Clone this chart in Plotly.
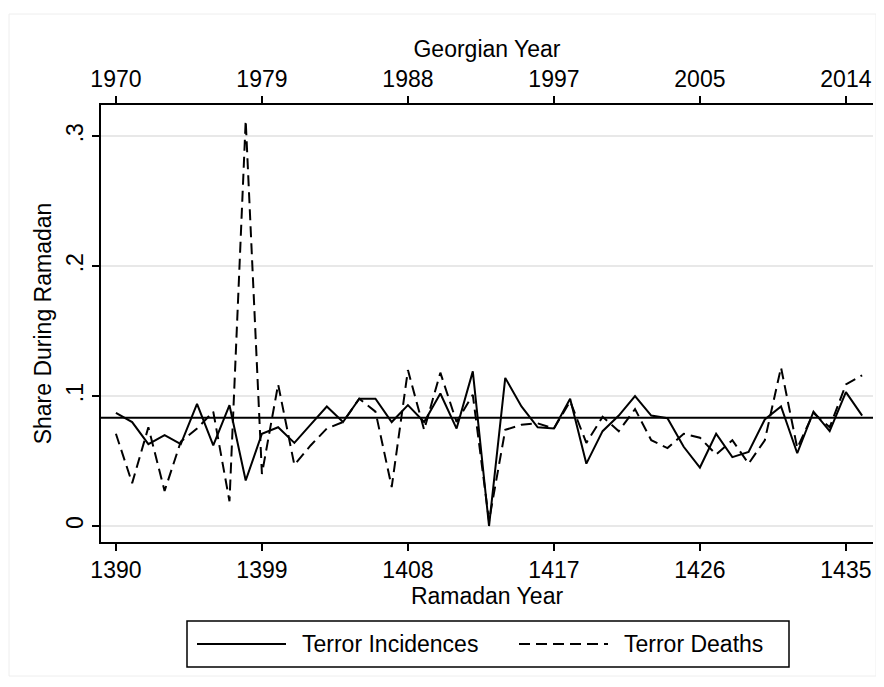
import plotly.graph_objects as go

# Ramadan years (lunar) and the share of terror falling in Ramadan
years = list(range(1390, 1437))

incidences = [
    0.087, 0.080, 0.063, 0.070, 0.063, 0.094, 0.062, 0.093, 0.035, 0.071,
    0.076, 0.064, 0.078, 0.092, 0.080, 0.098, 0.098, 0.080, 0.093, 0.080,
    0.102, 0.075, 0.119, 0.000, 0.114, 0.092, 0.076, 0.075, 0.098, 0.048,
    0.073, 0.085, 0.100, 0.085, 0.083, 0.061, 0.045, 0.071, 0.053, 0.057,
    0.082, 0.092, 0.056, 0.088, 0.073, 0.103, 0.085,
]

deaths = [
    0.071, 0.033, 0.076, 0.027, 0.065, 0.075, 0.088, 0.019, 0.312, 0.040,
    0.109, 0.047, 0.062, 0.075, 0.080, 0.098, 0.088, 0.030, 0.120, 0.074,
    0.118, 0.080, 0.101, 0.004, 0.074, 0.078, 0.079, 0.075, 0.096, 0.064,
    0.084, 0.073, 0.090, 0.066, 0.060, 0.071, 0.068, 0.055, 0.066, 0.048,
    0.066, 0.122, 0.060, 0.087, 0.076, 0.109, 0.116,
]

# expected share (1 month out of 12)
expected_share = 1 / 12

ramadan_ticks = [1390, 1399, 1408, 1417, 1426, 1435]
georgian_labels = ["1970", "1979", "1988", "1997", "2005", "2014"]
y_ticks = [0, 0.1, 0.2, 0.3]
y_labels = ["0", ".1", ".2", ".3"]

FONT = "Liberation Sans, Arial, sans-serif"
FS = 23
DASH = "11px,6px"

fig = go.Figure()
fig.add_trace(go.Scatter(x=years, y=incidences, mode="lines",
                         line=dict(color="black", width=2),
                         name="Terror Incidences", showlegend=False))
fig.add_trace(go.Scatter(x=years, y=deaths, mode="lines",
                         line=dict(color="black", width=2, dash=DASH),
                         name="Terror Deaths", showlegend=False))
# invisible trace so the top (Georgian) axis gets drawn
fig.add_trace(go.Scatter(x=years, y=incidences, xaxis="x2", mode="lines",
                         line=dict(width=0), opacity=0, hoverinfo="skip",
                         showlegend=False))

xr = [1389.08, 1436.67]
axis_common = dict(showline=True, linecolor="black", linewidth=1.5,
                   ticks="outside", ticklen=7, tickwidth=1.5, tickcolor="black",
                   showgrid=False, zeroline=False, automargin=False,
                   tickfont=dict(family=FONT, size=FS, color="black"))

# page body has an 8px margin, so the figure is 8px smaller than the window
fig.update_layout(
    width=876, height=679, autosize=False,
    margin=dict(l=93, r=11, t=97, b=145),
    paper_bgcolor="white", plot_bgcolor="white",
    font=dict(family=FONT, size=FS, color="black"),
    xaxis=dict(range=xr, tickvals=ramadan_ticks, **axis_common,
               title=dict(text="Ramadan Year", standoff=0,
                          font=dict(family=FONT, size=FS))),
    xaxis2=dict(range=xr, overlaying="x", side="top", anchor="y",
                tickvals=ramadan_ticks, ticktext=georgian_labels, **axis_common,
                title=dict(text="Georgian Year", standoff=2,
                           font=dict(family=FONT, size=FS))),
    yaxis=dict(range=[-0.0123, 0.324], tickvals=y_ticks, ticktext=y_labels,
               tickangle=-90, showline=True, linecolor="black", linewidth=1.5,
               ticks="outside", ticklen=7, tickwidth=1.5, tickcolor="black",
               showgrid=True, gridcolor="#e8e8e8", gridwidth=2,
               zeroline=False, automargin=False,
               tickfont=dict(family=FONT, size=FS, color="black"),
               title=dict(text="Share During Ramadan", standoff=4,
                          font=dict(family=FONT, size=FS))),
    showlegend=False,
)

# expected-share reference line
fig.add_shape(type="line", xref="paper", yref="y", x0=0, x1=1,
              y0=expected_share, y1=expected_share,
              line=dict(color="black", width=2))


def px(x):
    # window pixel -> paper fraction (plot area spans 101..873)
    return (x - 101) / 772


def py(y):
    # window pixel -> paper fraction (plot area spans 105..542)
    return (542 - y) / 437


# faint outer graph-region frame
fig.add_shape(type="rect", xref="paper", yref="paper",
              x0=px(9), x1=px(876), y0=py(676), y1=py(14),
              line=dict(color="#eeeeee", width=1), layer="below")

# legend box
fig.add_shape(type="rect", xref="paper", yref="paper",
              x0=px(187), x1=px(789), y0=py(667), y1=py(621),
              line=dict(color="black", width=1.5))
fig.add_shape(type="line", xref="paper", yref="paper",
              x0=px(197), x1=px(286), y0=py(644), y1=py(644),
              line=dict(color="black", width=2))
fig.add_shape(type="line", xref="paper", yref="paper",
              x0=px(519), x1=px(608), y0=py(644), y1=py(644),
              line=dict(color="black", width=2, dash=DASH))
fig.add_annotation(text="Terror Incidences", xref="paper", yref="paper",
                   x=px(300), y=py(644), xanchor="left", yanchor="middle",
                   showarrow=False, font=dict(family=FONT, size=FS, color="black"))
fig.add_annotation(text="Terror Deaths", xref="paper", yref="paper",
                   x=px(622), y=py(644), xanchor="left", yanchor="middle",
                   showarrow=False, font=dict(family=FONT, size=FS, color="black"))

fig.write_html("out.html")
